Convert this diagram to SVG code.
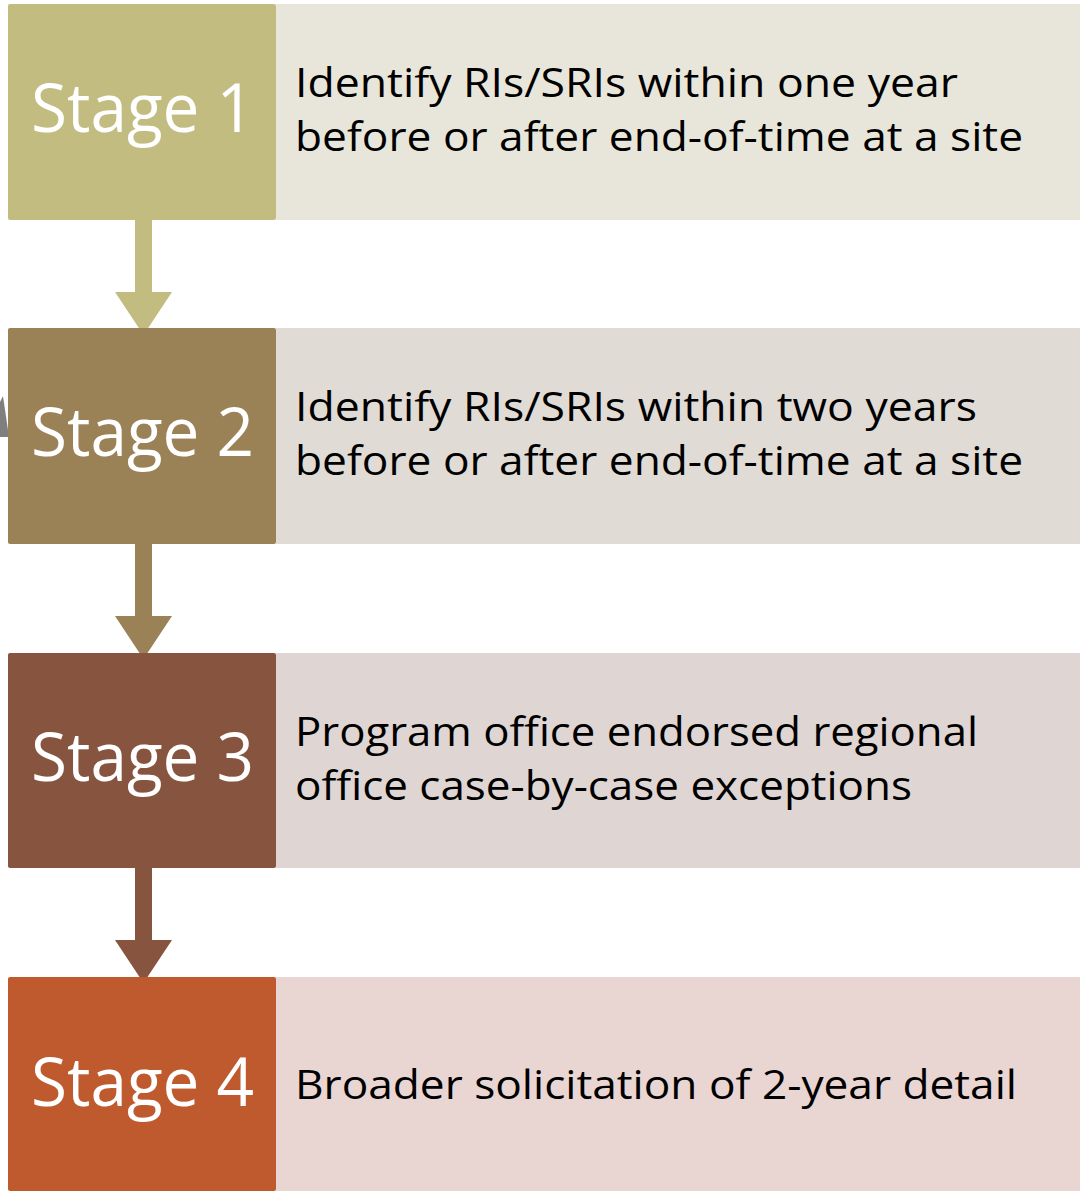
<svg xmlns="http://www.w3.org/2000/svg" width="1080" height="1191" viewBox="0 0 1080 1191">
<style>
.st{font-family:"Open Sans","Noto Sans",sans-serif;font-size:68px;fill:#ffffff}
.tx{font-family:"Open Sans","Noto Sans",sans-serif;font-size:40px;fill:#000000}
</style>
<rect width="1080" height="1191" fill="#ffffff"/>
<polygon points="0,402 3,396 9,437 0,437" fill="#7f7f7f"/>
<g id="connectors">
<path d="M135,220 H152 V292 H172 L143.5,335 L115,292 H135 Z" fill="#C2BC80"/>
<path d="M135,544 H152 V616 H172 L143.5,659 L115,616 H135 Z" fill="#9B8156"/>
<path d="M135,868 H152 V940 H172 L143.5,983 L115,940 H135 Z" fill="#87553F"/>
</g>
<g id="stage1">
<rect x="276" y="4" width="804" height="216" fill="#E8E6DA"/>
<rect x="8" y="4" width="268" height="216" rx="2" fill="#C2BC80"/>
<text class="st" x="31" y="132" textLength="223" lengthAdjust="spacingAndGlyphs">Stage 1</text>
<text class="tx" x="295" y="97" textLength="663" lengthAdjust="spacingAndGlyphs">Identify RIs/SRIs within one year</text>
<text class="tx" x="295" y="151" textLength="728" lengthAdjust="spacingAndGlyphs">before or after end-of-time at a site</text>
</g>
<g id="stage2">
<rect x="276" y="328" width="804" height="216" fill="#E0DBD5"/>
<rect x="8" y="328" width="268" height="216" rx="2" fill="#9B8156"/>
<text class="st" x="31" y="456" textLength="223" lengthAdjust="spacingAndGlyphs">Stage 2</text>
<text class="tx" x="295" y="421" textLength="682" lengthAdjust="spacingAndGlyphs">Identify RIs/SRIs within two years</text>
<text class="tx" x="295" y="475" textLength="728" lengthAdjust="spacingAndGlyphs">before or after end-of-time at a site</text>
</g>
<g id="stage3">
<rect x="276" y="653" width="804" height="215" fill="#DFD5D2"/>
<rect x="8" y="653" width="268" height="215" rx="2" fill="#87553F"/>
<text class="st" x="31" y="781" textLength="223" lengthAdjust="spacingAndGlyphs">Stage 3</text>
<text class="tx" x="295" y="746" textLength="683" lengthAdjust="spacingAndGlyphs">Program office endorsed regional</text>
<text class="tx" x="295" y="800" textLength="617" lengthAdjust="spacingAndGlyphs">office case-by-case exceptions</text>
</g>
<g id="stage4">
<rect x="276" y="977" width="804" height="214" fill="#E9D6D3"/>
<rect x="8" y="977" width="268" height="214" rx="2" fill="#BE5A2D"/>
<text class="st" x="31" y="1106" textLength="223" lengthAdjust="spacingAndGlyphs">Stage 4</text>
<text class="tx" x="295" y="1099" textLength="722" lengthAdjust="spacingAndGlyphs">Broader solicitation of 2-year detail</text>
</g>
</svg>
